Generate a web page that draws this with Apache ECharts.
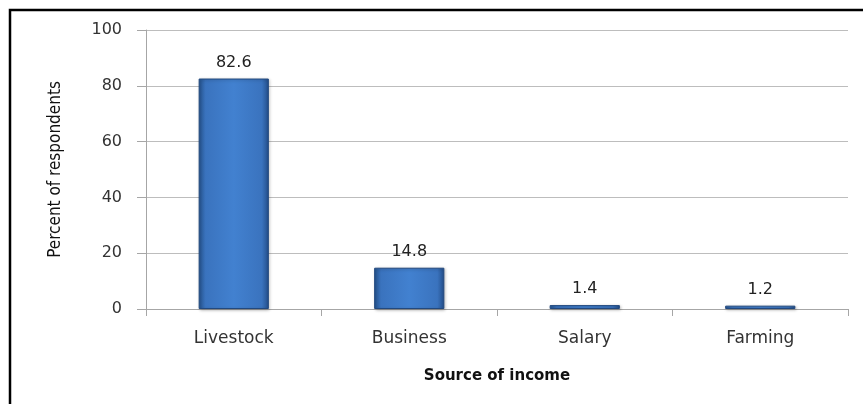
<!DOCTYPE html>
<html>
<head>
<meta charset="utf-8">
<script src="https://cdn.jsdelivr.net/npm/echarts@6/dist/echarts.min.js"></script>
<style>
  html, body { margin: 0; padding: 0; background: #ffffff; }
  #chart { width: 863px; height: 404px; }
</style>
</head>
<body>
<div id="chart"></div>
<script>
// Income sources of respondents (percent)
const categories = ['Livestock', 'Business', 'Salary', 'Farming'];
const percents = [82.6, 14.8, 1.4, 1.2];
const yTicks = [0, 20, 40, 60, 80, 100];

const chart = echarts.init(document.getElementById('chart'));

const barFill = new echarts.graphic.LinearGradient(0, 0, 1, 0, [
  { offset: 0, color: '#25548f' },
  { offset: 0.1, color: '#3a73be' },
  { offset: 0.5, color: '#4281d0' },
  { offset: 0.9, color: '#3a73be' },
  { offset: 1, color: '#234d88' }
]);

chart.setOption({
  animation: false,
  backgroundColor: '#ffffff',
  graphic: [{
    type: 'rect',
    shape: { x: 10, y: 10, width: 900, height: 450 },
    style: { fill: 'none', stroke: '#000000', lineWidth: 2.5 },
    silent: true
  }],
  grid: { left: 146, right: 15, top: 30, bottom: 95 },
  xAxis: {
    type: 'category',
    data: categories,
    name: 'Source of income',
    nameLocation: 'middle',
    nameGap: 60,
    nameTextStyle: { fontFamily: 'DejaVu Sans', fontSize: 15, fontWeight: 'bold', color: '#111' },
    axisLine: { lineStyle: { color: '#a6a6a6', width: 1 } },
    axisTick: { show: true, length: 7, lineStyle: { color: '#a6a6a6' } },
    axisLabel: { margin: 21, fontFamily: 'DejaVu Sans', fontSize: 17, color: '#333' }
  },
  yAxis: {
    type: 'value',
    min: yTicks[0],
    max: yTicks[yTicks.length - 1],
    interval: 20,
    name: 'Percent of respondents',
    nameLocation: 'middle',
    nameGap: 82,
    nameTextStyle: { fontFamily: 'DejaVu Sans Condensed', fontSize: 17, color: '#111' },
    axisLine: { show: true, lineStyle: { color: '#a6a6a6', width: 1 } },
    axisTick: { show: true, length: 9, lineStyle: { color: '#a6a6a6' } },
    axisLabel: { margin: 24, fontFamily: 'DejaVu Sans', fontSize: 16, color: '#333' },
    splitLine: { lineStyle: { color: '#bdbdbd', width: 1 } }
  },
  series: [{
    type: 'bar',
    data: percents,
    barWidth: '40%',
    itemStyle: {
      color: barFill,
      borderColor: '#22497f',
      borderWidth: 1,
      shadowColor: 'rgba(0,0,0,0.25)',
      shadowBlur: 3,
      shadowOffsetX: 1,
      shadowOffsetY: 1
    },
    label: {
      show: true,
      position: 'top',
      distance: 8,
      fontFamily: 'DejaVu Sans',
      fontSize: 16,
      color: '#222'
    }
  }]
});
</script>
</body>
</html>
